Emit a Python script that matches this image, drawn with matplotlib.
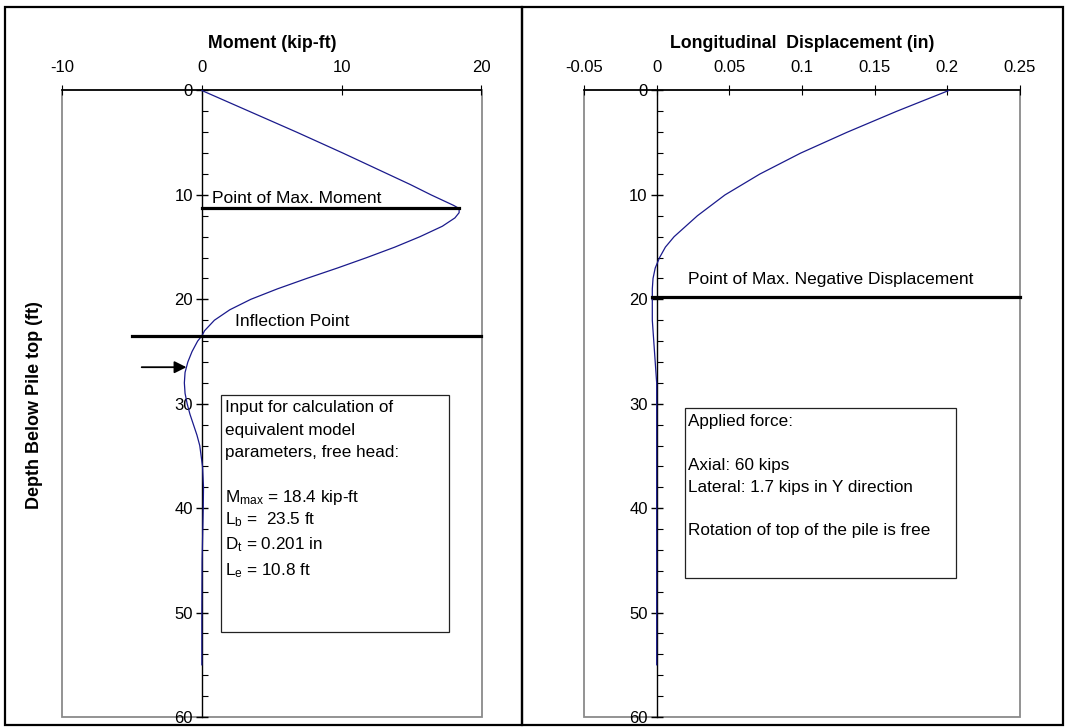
import matplotlib
matplotlib.use("Agg")
import matplotlib.pyplot as plt
from matplotlib.patches import Rectangle
from matplotlib.lines import Line2D

plt.rcParams['font.family'] = ['Liberation Sans', 'DejaVu Sans']
plt.rcParams['mathtext.fontset'] = 'custom'
plt.rcParams['mathtext.rm'] = 'Liberation Sans'
plt.rcParams['axes.unicode_minus'] = False

# moment profile along the pile (kip-ft vs ft below pile top)
depth_m = [0, 2, 4, 6, 7, 8, 9, 10, 10.5, 11, 11.3, 11.7, 12.2, 13, 14, 15, 16, 17, 18,
           19, 20, 21, 22, 23, 23.5, 24, 25, 26, 27, 28, 29, 30, 31, 32, 33, 34,
           36, 38, 40, 45, 50, 55]
moment = [0, 3.4, 6.8, 10.1, 11.7, 13.3, 14.9, 16.4, 17.2, 18.0, 18.4, 18.4, 18.1, 17.2, 15.6,
          13.8, 11.8, 9.7, 7.5, 5.4, 3.5, 2.0, 0.9, 0.2, 0, -0.3, -0.7, -1.0, -1.2,
          -1.25, -1.2, -1.05, -0.85, -0.6, -0.35, -0.15, 0.05, 0.12, 0.1, 0.02, 0, 0]

# lateral displacement profile (in vs ft)
depth_d = [0, 2, 4, 6, 8, 10, 12, 14, 15, 16, 17, 18, 19, 20, 22, 24, 26, 28, 30, 40, 55]
disp = [0.201, 0.165, 0.131, 0.099, 0.071, 0.047, 0.028, 0.012, 0.006, 0.002, -0.001,
        -0.0025, -0.003, -0.003, -0.003, -0.002, -0.001, 0, 0, 0, 0]

m_max, z_max = 18.4, 11.3
z_inflect = 23.5
z_dmin = 19.8
z_arrow = 26.5

m_ticks = [-10, 0, 10, 20]
d_ticks = [-0.05, 0, 0.05, 0.1, 0.15, 0.2, 0.25]
d_ticklabels = ['-0.05', '0', '0.05', '0.1', '0.15', '0.2', '0.25']

left_box = ['Input for calculation of', 'equivalent model', 'parameters, free head:',
            r'$\mathregular{M_{max}}$ = 18.4 kip-ft', r'$\mathregular{L_b}$ =  23.5 ft',
            r'$\mathregular{D_t}$ = 0.201 in', r'$\mathregular{L_e}$ = 10.8 ft']
left_box_z = [30.8, 33.0, 35.1, 39.4, 41.5, 43.9, 46.4]
right_box = ['Applied force:', 'Axial: 60 kips', 'Lateral: 1.7 kips in Y direction',
             'Rotation of top of the pile is free']
right_box_z = [32.1, 36.3, 38.45, 42.6]

W, H = 1066, 727
fig = plt.figure(figsize=(W / 100, H / 100), dpi=100)

# chart frames
for x0, x1 in [(5, 522), (522, 1063)]:
    fig.add_artist(Rectangle((x0 / W, 1 - 725 / H), (x1 - x0) / W, (725 - 6.5) / H,
                             transform=fig.transFigure, fill=False, ec='k', lw=1.6))

ax1 = fig.add_axes([62 / W, 10 / H, 419.5 / W, 626.5 / H])
ax2 = fig.add_axes([584 / W, 10 / H, 436 / W, 626.5 / H])


def style(ax):
    ax.set_ylim(60, 0)
    ax.set_yticks(range(0, 61, 10))
    ax.set_yticks(range(0, 61, 2), minor=True)
    ax.spines['left'].set_position(('data', 0))
    ax.spines['left'].set_linewidth(1.0)
    for s in ['right', 'bottom']:
        ax.spines[s].set_visible(False)
    ax.spines['top'].set_linewidth(1.2)
    ax.xaxis.set_ticks_position('top')
    ax.xaxis.set_label_position('top')
    ax.tick_params(axis='y', which='major', direction='inout', length=9, width=1.0,
                   labelsize=12, pad=2)
    ax.tick_params(axis='y', which='minor', direction='in', length=4, width=0.8)
    ax.tick_params(axis='x', which='major', direction='inout', length=7, width=0.8,
                   labelsize=12, pad=8)
    ax.add_patch(Rectangle((0, 0), 1, 1, transform=ax.transAxes, fill=False,
                           ec='#8a8a8a', lw=1.3, zorder=0.5, clip_on=False))


style(ax1)
ax1.set_xlim(-10, 20)
ax1.set_xticks(m_ticks)
ax1.set_xlabel('Moment (kip-ft)', fontsize=12.8, fontweight='bold', labelpad=8)
ax1.plot(moment, depth_m, color='#1a1a8c', lw=0.9, zorder=3)
ax1.plot([0, m_max], [z_max, z_max], color='k', lw=2.3, zorder=4)
ax1.text(0.7, z_max - 0.55, 'Point of Max. Moment', fontsize=12.5, va='baseline')
ax1.add_line(Line2D([-5, 20], [z_inflect, z_inflect], color='k', lw=2.3, zorder=4,
                    clip_on=False))
ax1.text(2.4, z_inflect - 0.95, 'Inflection Point', fontsize=12.5, va='baseline')
ax1.annotate('', xy=(-0.9, z_arrow), xytext=(-4.5, z_arrow),
             arrowprops=dict(arrowstyle='-|>', color='k', lw=1.3, mutation_scale=18))
ax1.add_patch(Rectangle((1.4, 29.2), 16.25, 22.7, fill=True, fc='white', ec='#222222',
                        lw=0.9, zorder=5))
for s, z in zip(left_box, left_box_z):
    ax1.text(1.64, z, s, fontsize=12.3, va='baseline', zorder=6)

style(ax2)
ax2.set_xlim(-0.05, 0.25)
ax2.set_xticks(d_ticks)
ax2.set_xticklabels(d_ticklabels)
ax2.set_xlabel('Longitudinal  Displacement (in)', fontsize=12.8, fontweight='bold',
               labelpad=8)
ax2.plot(disp, depth_d, color='#1a1a8c', lw=0.9, zorder=3)
ax2.add_line(Line2D([-0.0035, 0.25], [z_dmin, z_dmin], color='k', lw=2.3, zorder=4,
                    clip_on=False))
ax2.text(0.0216, z_dmin - 1.3, 'Point of Max. Negative Displacement', fontsize=12.5,
         va='baseline')
ax2.add_patch(Rectangle((0.0193, 30.45), 0.1867, 16.2, fill=True, fc='white',
                        ec='#222222', lw=0.9, zorder=5))
for s, z in zip(right_box, right_box_z):
    ax2.text(0.0216, z, s, fontsize=12.3, va='baseline', zorder=6)

fig.text(35 / W, 1 - 405 / H, 'Depth Below Pile top (ft)', rotation=90, ha='center',
         va='center', fontsize=13, fontweight='bold')

fig.savefig('out.png', dpi=100)
